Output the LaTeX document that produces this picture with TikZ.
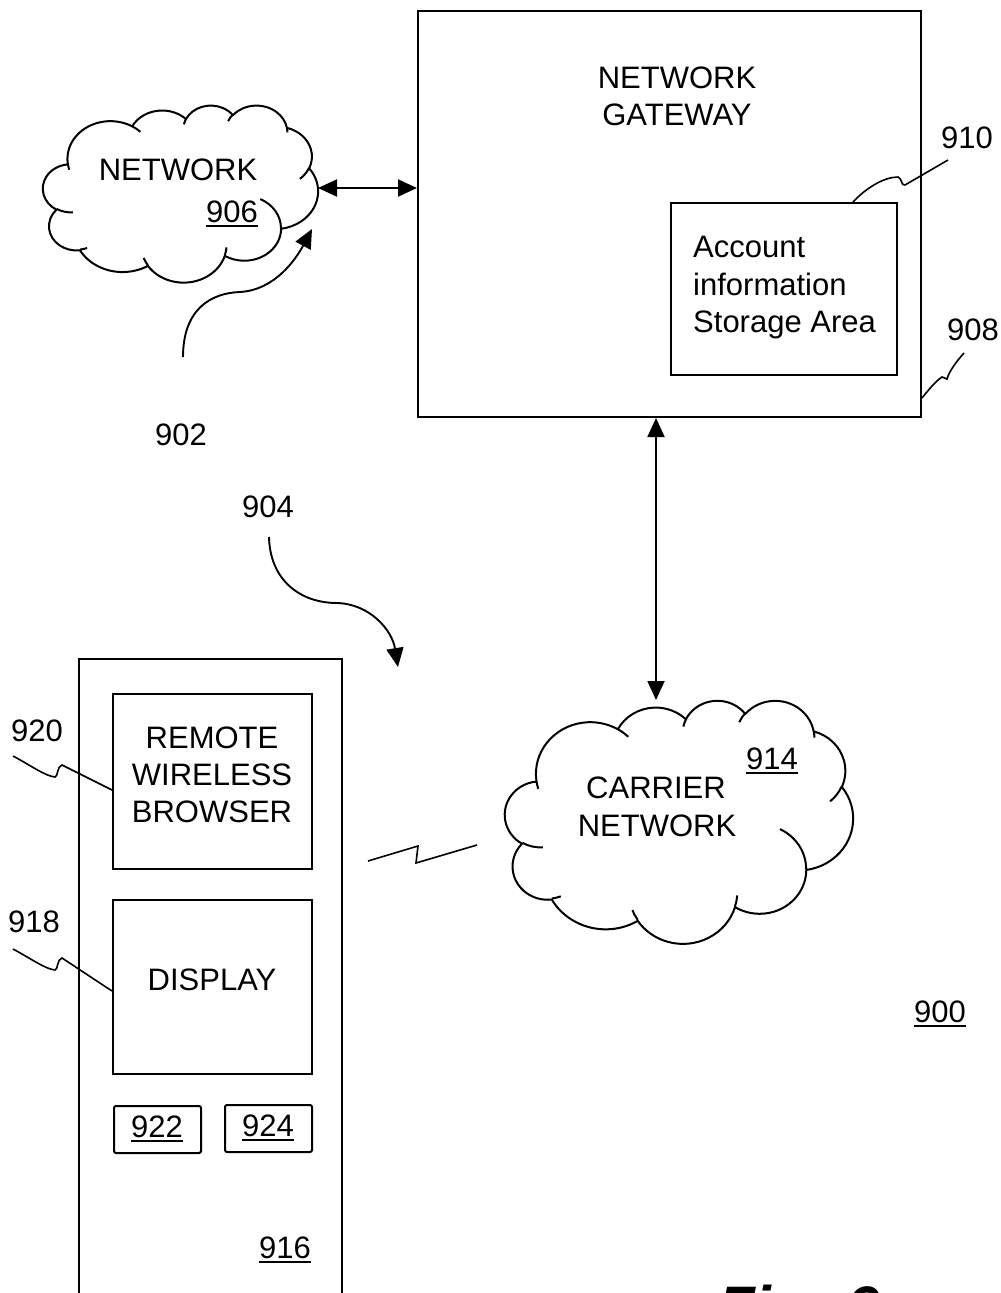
\documentclass[tikz,border=0pt]{standalone}
\usepackage{fontspec}
\setmainfont{Liberation Sans}
\usetikzlibrary{arrows.meta}
\newcommand\ulnum[1]{\setbox0\hbox{#1}\rlap{\rule[-5pt]{\wd0}{2pt}}\box0}
\newcommand\ocalc[4]{%
  \pgfmathsetmacro\oA{atan2((#1)*sin(#3),(#2)*cos(#3))}%
  \pgfmathsetmacro\oA{\oA+360*round(((#3)-\oA)/360)}%
  \pgfmathsetmacro\oB{atan2((#1)*sin((#3)+(#4)),(#2)*cos((#3)+(#4)))}%
  \pgfmathsetmacro\oB{\oB+360*round(((#3)+(#4)-\oB)/360)}%
}
\newcommand\oarc[4]{\pgfextra{\ocalc{#1}{#2}{#3}{#4}} arc[start angle=\oA, end angle=\oB, x radius=#1, y radius=#2]}
\newcommand\officecloud{%
  (39,143.70) \oarc{67.53}{91.90}{-190.48748}{123.78053}
  \oarc{53.33}{72.67}{-144.10238}{89.94523}
  \oarc{43.65}{59.45}{-145.80792}{99.72302}
  \oarc{48.57}{65.95}{-130.98607}{117.24173}
  \oarc{53.33}{72.73}{-78.70888}{109.02692}
  \oarc{67.75}{92.20}{-46.26725}{130.269}
  \oarc{57.85}{78.67}{0.62502}{114.03333}
  \oarc{67.52}{92.15}{22.4516}{115.17255}
  \oarc{77.20}{105.43}{66.24263}{75.71102}
  \oarc{43.60}{59.18}{-274.94208}{146.73557}
  \oarc{43.45}{59.45}{-246.8285}{152.51885}
  -- cycle
  (46.93,261.77) \oarc{43.45}{59.45}{86.742}{26.4295}
  (69.28,348.99) \oarc{43.60}{59.18}{73.61047}{11.44747}
  (164.78,390.90) \oarc{67.52}{92.15}{137.62415}{14.0811}
  (288.27,347.51) \oarc{67.52}{92.15}{6.45327}{15.99835}
  (341.29,229.54) \oarc{57.85}{78.67}{-70.29235}{70.91737}
  (417.98,153.54) \oarc{53.33}{72.73}{30.31803}{27.7515}
  (383.24,54.26) \oarc{48.57}{65.95}{-13.74433}{14.8589}
  (290.78,39.52) \oarc{48.57}{65.95}{-149.18145}{18.19537}
  (221.41,47.20) \oarc{43.65}{59.45}{-163.49427}{17.68635}
  (140.00,51.92) \oarc{67.53}{91.90}{-66.70695}{12.31935}
  (41.27,157.89) \oarc{67.53}{91.90}{157.65435}{11.85817}
}
\tikzset{
  box/.style={draw, line width=2pt, inner sep=0pt},
  area/.style={inner sep=0pt, outer sep=0pt},
  txt/.style={inner sep=0pt, anchor=base, font=\fontsize{31}{37}\selectfont},
  txtw/.style={inner sep=0pt, anchor=base west, font=\fontsize{31}{37}\selectfont},
  lead/.style={line width=1.6pt},
  cloudline/.style={line width=2pt, line join=round},
  tipA/.tip={Triangle[length=19pt,width=17pt]},
  dbl/.style={line width=1.9pt, tipA-tipA},
  arr/.style={line width=1.9pt, -tipA},
}
\begin{document}
\begin{tikzpicture}[x=1pt,y=-1pt]
\useasboundingbox (0,0) rectangle (1001,1293);
\fill[white] (0,0) rectangle (1001,1293);

% Network gateway
\node[box, minimum width=503pt, minimum height=406pt] (gw) at (669.5,214) {};
\node[txt] (gwt1) at (677,88) {NETWORK};
\node[txt] (gwt2) at (677,125) {GATEWAY};
\node[box, minimum width=226pt, minimum height=172pt] (acct) at (784,289) {};
\node[txtw] (ac1) at (693,257) {Account};
\node[txtw] (ac2) at (693,295) {information};
\node[txtw] (ac3) at (693,332) {Storage Area};
\node[txt] (l910) at (967,148) {910};
\node[txt] (l908) at (973,340) {908};
\draw[lead] ([xshift=69pt]acct.north) .. controls (866,188) and (884,177) .. (898,177)
  .. controls (902,178) and (901,186) .. (905,185) -- (948,160);
\draw[lead] ([yshift=20pt]gw.south east) .. controls (930,388) and (936,381) .. (942,377)
  -- (947,379) .. controls (949,372) and (955,363) .. (964,353);

% Network cloud
\node[area, minimum width=275pt, minimum height=177pt] (net) at (180.5,193.5) {};
\begin{scope}[shift={(net.north west)}, x=0.636574pt, y=-0.409722pt]
  \draw[cloudline] \officecloud;
\end{scope}
\node[txt] (nett) at (178,180) {NETWORK};
\node[txt] (l906) at (232,222) {\ulnum{906}};
\coordinate (netR) at (318,188);
\draw[dbl] (netR) -- (netR -| gw.west);

% 902
\node[txt] (l902) at (181,445) {902};
\coordinate (a902s) at (183,357);
\coordinate (a902e) at (312,229);
\draw[arr] (a902s) .. controls (183,310) and (210,293) .. (240,292)
  .. controls (275,290) and (296,259) .. (a902e);

% 904
\node[txt] (l904) at (268,517) {904};
\coordinate (a904s) at (269,537);
\coordinate (a904e) at (398,667);
\draw[arr] (a904s) .. controls (270,580) and (300,603) .. (337,603)
  .. controls (370,604) and (392,630) .. (a904e);

% Carrier cloud
\node[area, minimum width=348pt, minimum height=243pt] (carr) at (679,821.5) {};
\begin{scope}[shift={(carr.north west)}, x=0.805556pt, y=-0.5625pt]
  \draw[cloudline] \officecloud;
\end{scope}
\node[txt] (ct1) at (656,798) {CARRIER};
\node[txt] (ct2) at (657,836) {NETWORK};
\node[txt] (l914) at (772,769) {\ulnum{914}};
\coordinate (carrT) at (656,700);
\draw[dbl] (carrT |- gw.south) -- (carrT);

% wireless link
\coordinate (z1) at (368,861);
\coordinate (z4) at (477,845);
\draw[lead] (z1) -- (418,846) -- (416,863) -- (z4);

% Phone
\node[box, minimum width=263pt, minimum height=700pt] (phone) at (210.5,1009) {};
\node[box, minimum width=199pt, minimum height=175pt] (brw) at (212.5,781.5) {};
\node[txt] (b1) at (212,748) {REMOTE};
\node[txt] (b2) at (212,785) {WIRELESS};
\node[txt] (b3) at (212,822) {BROWSER};
\node[box, minimum width=199pt, minimum height=174pt] (disp) at (212.5,987) {};
\node[txt] (d1) at (212,990) {DISPLAY};
\node[box, rounded corners=2pt, minimum width=87pt, minimum height=47pt] (k922) at (157.5,1129.5) {};
\node[txt] (l922) at (157,1137) {\ulnum{922}};
\node[box, rounded corners=2pt, minimum width=87pt, minimum height=47pt] (k924) at (268.5,1128.5) {};
\node[txt] (l924) at (268,1136) {\ulnum{924}};
\node[txt] (l916) at (285,1258) {\ulnum{916}};
\node[txt] (l920) at (37,741) {920};
\node[txt] (l918) at (34,932) {918};
\draw[lead] (13,756) .. controls (30,765) and (45,776) .. (55,777)
  .. controls (58,777) and (57,766) .. (62,765) -- ([yshift=-8.5pt]brw.west);
\draw[lead] (13,949) .. controls (30,958) and (45,969) .. (55,970)
  .. controls (58,970) and (57,959) .. (62,958) -- ([yshift=-4pt]disp.west);

\node[txt] (l900) at (940,1022) {\ulnum{900}};
\node[inner sep=0pt, anchor=base west, font=\fontsize{60}{72}\selectfont\bfseries\itshape] (fig) at (718,1328) {Fig. 9};
\end{tikzpicture}
\end{document}
